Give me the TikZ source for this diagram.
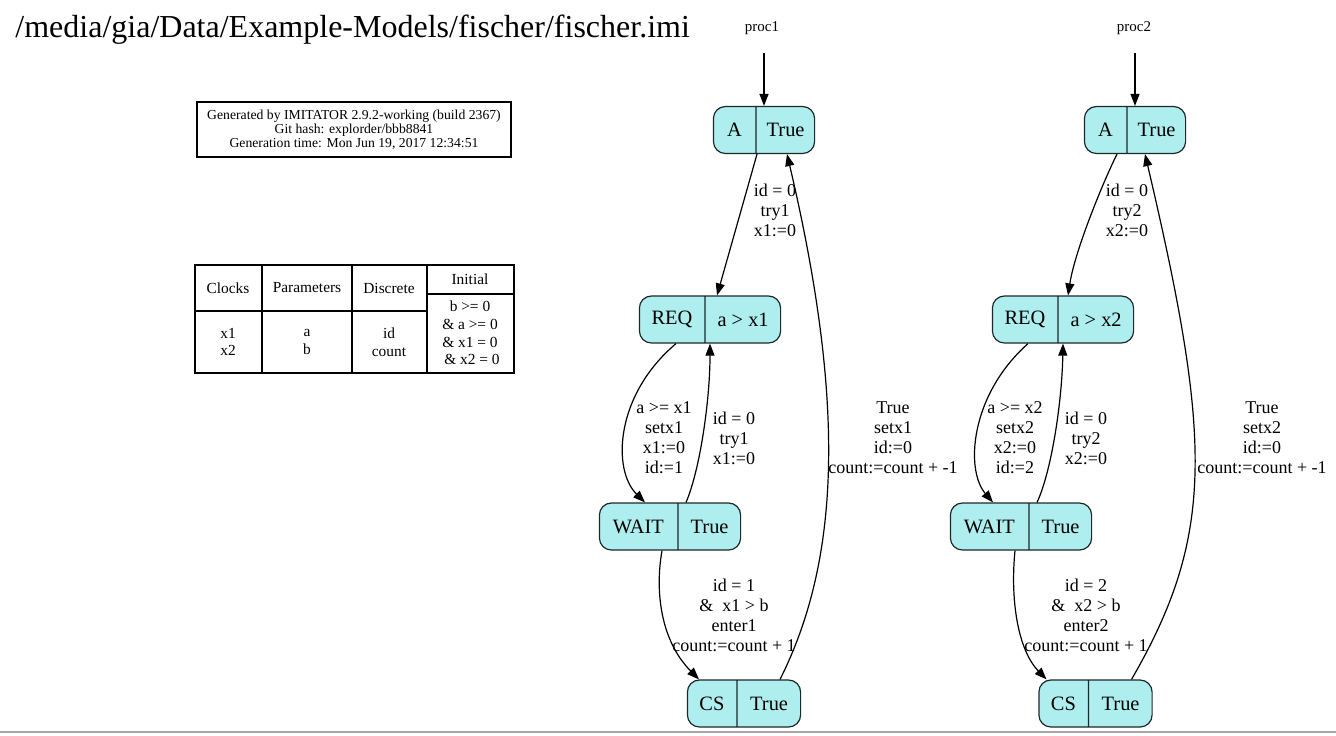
\documentclass[tikz,border=0pt]{standalone}
\usepackage{fontspec}
\setmainfont{Liberation Serif}[Ligatures=CommonOff]
\usetikzlibrary{positioning, calc, arrows.meta, shapes.multipart}
\definecolor{locfill}{RGB}{175,238,238}
\definecolor{locline}{RGB}{30,40,40}

\begin{document}
\begin{tikzpicture}[x=0.5pt,y=-0.5pt,
  loc/.style={rectangle split, rectangle split horizontal, rectangle split parts=2,
    draw=locline, fill=locfill, line width=0.6pt, rounded corners=6pt,
    minimum height=23.5pt, inner xsep=4pt, inner ysep=0pt,
    font=\fontsize{10.2}{12}\selectfont},
  lbl/.style={align=center, inner sep=0pt, font=\fontsize{9}{10}\selectfont},
  cell/.style={align=center, inner sep=0pt, font=\fontsize{7.7}{8.8}\selectfont},
  tbl/.style={line width=0.7pt},
  trans/.style={-{Triangle[length=6pt,width=4.5pt]}, line width=0.6pt}]
  \useasboundingbox (0,0) rectangle (1336,735);

  % header
  \node[anchor=base west, inner sep=0pt, font=\fontsize{16}{18}\selectfont] (title) at (15,37)
    {/media/gia/Data/Example-Models/fischer/fischer.imi};
  \node[draw, line width=0.6pt, minimum width=157pt, minimum height=27.5pt, align=center,
    inner sep=0pt, font=\fontsize{6.85}{7}\selectfont] (info) at (354,129.5)
    {Generated by IMITATOR 2.9.2-working (build 2367)\\Git hash: explorder/bbb8841\\Generation time: Mon Jun 19, 2017 12:34:51};

  % variables table
  \draw[tbl] (195,265) rectangle (514,373);
  \draw[tbl] (262,265) -- (262,373) (352,265) -- (352,373) (427,265) -- (427,373);
  \draw[tbl] (195,311) -- (427,311) (427,294) -- (514,294);
  \node[cell] (clk) at (228,288) {Clocks};
  \node[cell] (par) at (307,288) {Parameters};
  \node[cell] (dis) at (389,288) {Discrete};
  \node[cell] (ini) at (470,279) {Initial};
  \node[cell] (clkv) at (228,342) {x1\\x2};
  \node[cell] (parv) at (307,342) {a\\b};
  \node[cell] (disv) at (389,342) {id\\count};
  \node[cell] (iniv) at (470,333) {b >= 0\\\& a >= 0\\\& x1 = 0\\\ \& x2 = 0};

  % proc1
  \node[inner sep=0pt, font=\fontsize{7.5}{9}\selectfont] (p1) at (762,28) {proc1};
  \coordinate (s1) at (764,53);
  \node[loc] (A1) at (764,130) {\makebox[13pt]{A}\nodepart{two}\makebox[21pt]{True}};
  \node[loc] (REQ1) at (710,319.5) {\makebox[24.5pt]{REQ}\nodepart{two}\makebox[29.5pt]{a > x1}};
  \node[loc] (WAIT1) at (670,526.5) {\makebox[31pt]{WAIT}\nodepart{two}\makebox[23pt]{True}};
  \node[loc] (CS1) at (744,703.5) {\makebox[16.5pt]{CS}\nodepart{two}\makebox[23.5pt]{True}};
  \draw[trans] (s1) -- (A1);
  \draw[trans] ($(A1.south)+(-7,0)$) -- ($(REQ1.north)+(7,0)$);
  \draw[trans] ($(REQ1.south)+(-34,0)$) .. controls (615,395) and (612,470) .. ($(WAIT1.north)+(-25,0)$);
  \draw[trans] ($(WAIT1.north)+(16,0)$) .. controls (700,470) and (710,400) .. (REQ1.south);
  \draw[trans] ($(WAIT1.south)+(-8,0)$) .. controls (655,590) and (660,640) .. ($(CS1.north)+(-45,0)$);
  \draw[trans] ($(CS1.north)+(36,0)$) .. controls (840,560) and (846,405) .. ($(A1.south)+(23,0)$);
  \node[lbl] (l1a) at (775,210) {id = 0\\try1\\x1:=0};
  \node[lbl] (l1b) at (664,438) {a >= x1\\setx1\\x1:=0\\id:=1};
  \node[lbl] (l1c) at (734,438) {id = 0\\try1\\x1:=0};
  \node[lbl] (l1d) at (734,615) {id = 1\\\&\ \ x1 > b\\enter1\\count:=count + 1};
  \node[lbl] (l1e) at (893,438) {True\\setx1\\id:=0\\count:=count + -1};

  % proc2
  \node[inner sep=0pt, font=\fontsize{7.5}{9}\selectfont] (p2) at (1134,28) {proc2};
  \coordinate (s2) at (1135,53);
  \node[loc] (A2) at (1135,130) {\makebox[13pt]{A}\nodepart{two}\makebox[21pt]{True}};
  \node[loc] (REQ2) at (1063,319.5) {\makebox[24.5pt]{REQ}\nodepart{two}\makebox[29.5pt]{a > x2}};
  \node[loc] (WAIT2) at (1021,526.5) {\makebox[31pt]{WAIT}\nodepart{two}\makebox[23pt]{True}};
  \node[loc] (CS2) at (1095.5,703.5) {\makebox[16.5pt]{CS}\nodepart{two}\makebox[23.5pt]{True}};
  \draw[trans] (s2) -- (A2);
  \draw[trans] ($(A2.south)+(-18,0)$) .. controls (1104,180) and (1075,250) .. ($(REQ2.north)+(5,0)$);
  \draw[trans] ($(REQ2.south)+(-35,0)$) .. controls (970,395) and (965,470) .. ($(WAIT2.north)+(-28,0)$);
  \draw[trans] ($(WAIT2.north)+(16,0)$) .. controls (1052,470) and (1062,400) .. (REQ2.south);
  \draw[trans] ($(WAIT2.south)+(-6,0)$) .. controls (1010,600) and (1018,650) .. ($(CS2.north)+(-49,0)$);
  \draw[trans] ($(CS2.north)+(36,0)$) .. controls (1215,535) and (1212,440) .. ($(A2.south)+(10,0)$);
  \node[lbl] (l2a) at (1127,210) {id = 0\\try2\\x2:=0};
  \node[lbl] (l2b) at (1015,438) {a >= x2\\setx2\\x2:=0\\id:=2};
  \node[lbl] (l2c) at (1086,438) {id = 0\\try2\\x2:=0};
  \node[lbl] (l2d) at (1086,615) {id = 2\\\&\ \ x2 > b\\enter2\\count:=count + 1};
  \node[lbl] (l2e) at (1262,438) {True\\setx2\\id:=0\\count:=count + -1};

  \draw[black!35, line width=1pt] (0,732) -- (1336,732);
\end{tikzpicture}
\end{document}
